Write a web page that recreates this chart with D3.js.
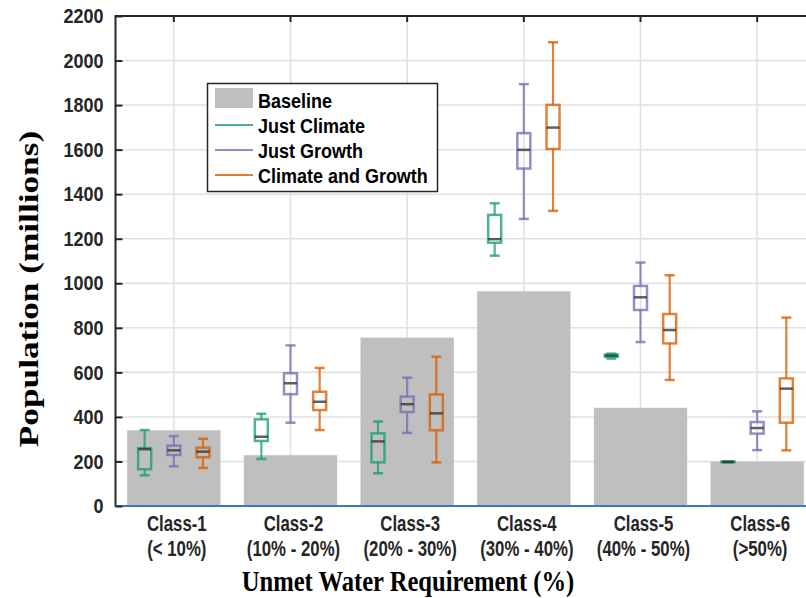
<!DOCTYPE html>
<html><head><meta charset="utf-8">
<script src="https://cdn.jsdelivr.net/npm/d3@7"></script>
<style>body{margin:0;background:#fff}svg{display:block}</style>
</head><body><svg id="c" width="806" height="598"></svg>
<script>
const classes = ["Class-1","Class-2","Class-3","Class-4","Class-5","Class-6"];
const ranges = ["(< 10%)","(10% - 20%)","(20% - 30%)","(30% - 40%)","(40% - 50%)","(>50%)"];
const baseline = [340, 228, 756, 964, 441, 199];
// [low whisker, q1, median, q3, high whisker]
const justClimate = [[138,165,255,260,341],[211,292,311,389,414],[147,196,290,326,379],[1124,1182,1198,1307,1359],[662,670,675,680,684],[196,197,198,199,200]];
const justGrowth = [[178,229,250,271,314],[374,502,551,596,721],[328,422,457,491,576],[1289,1515,1599,1674,1894],[736,880,937,988,1093],[251,325,350,377,425]];
const climateGrowth = [[171,219,244,262,302],[341,431,468,513,620],[196,340,416,501,670],[1325,1603,1699,1801,2082],[566,730,790,862,1036],[250,374,527,573,846]];
const yTicks = [0,200,400,600,800,1000,1200,1400,1600,1800,2000,2200];
const seriesNames = ["Just Climate","Just Growth","Climate and Growth"];
const seriesColors = ["#1b9e77","#7570b3","#d95f02"];
const seriesData = [justClimate, justGrowth, climateGrowth];
const offsets = [-0.25, 0, 0.25];

const svg = d3.select("#c");
const pL = 115.5, pT = 16, pB = 506;
const x = d3.scaleBand().domain(classes).range([pL, pL + 700]).padding(0);
const bw = x.bandwidth();
const cx = c => x(c) + bw/2;
const y = d3.scaleLinear().domain([0, 2200]).range([pB, pT]);

// grid
const g = svg.append("g");
g.selectAll(".hg").data(yTicks.slice(1, -1)).join("line")
  .attr("x1", pL).attr("x2", pL + 700).attr("y1", d => y(d)).attr("y2", d => y(d))
  .attr("stroke", "#e0e0e0").attr("stroke-width", 1.5);
g.selectAll(".vg").data(classes).join("line")
  .attr("x1", cx).attr("x2", cx).attr("y1", pT).attr("y2", pB)
  .attr("stroke", "#e0e0e0").attr("stroke-width", 1.5);

// baseline bars
svg.append("g").selectAll("rect").data(baseline).join("rect")
  .attr("x", (d, i) => cx(classes[i]) - bw*0.4)
  .attr("width", bw*0.8)
  .attr("y", d => y(d)).attr("height", d => y(0) - y(d))
  .attr("fill", "#bfbfbf");

// boxes
const boxW = 13, capW = 10;
seriesData.forEach((sd, s) => {
  const col = seriesColors[s];
  const gg = svg.append("g").attr("stroke-opacity", 0.78);
  sd.forEach((v, i) => {
    const xc = cx(classes[i]) + offsets[s]*bw;
    const [lo, q1, md, q3, hi] = v;
    gg.append("line").attr("x1", xc).attr("x2", xc).attr("y1", y(hi)).attr("y2", y(q3)).attr("stroke", col).attr("stroke-width", 2.2);
    gg.append("line").attr("x1", xc).attr("x2", xc).attr("y1", y(q1)).attr("y2", y(lo)).attr("stroke", col).attr("stroke-width", 2.2);
    gg.append("line").attr("x1", xc - capW/2).attr("x2", xc + capW/2).attr("y1", y(hi)).attr("y2", y(hi)).attr("stroke", col).attr("stroke-width", 2.5);
    gg.append("line").attr("x1", xc - capW/2).attr("x2", xc + capW/2).attr("y1", y(lo)).attr("y2", y(lo)).attr("stroke", col).attr("stroke-width", 2.5);
    gg.append("rect").attr("x", xc - boxW/2).attr("width", boxW).attr("y", y(q3)).attr("height", Math.max(0.5, y(q1) - y(q3)))
      .attr("fill", "none").attr("stroke", col).attr("stroke-width", 2.5);
    gg.append("line").attr("x1", xc - boxW/2).attr("x2", xc + boxW/2).attr("y1", y(md)).attr("y2", y(md)).attr("stroke", "#333").attr("stroke-width", 2.5);
  });
});

// axes frame
svg.append("line").attr("x1", pL).attr("x2", 806).attr("y1", pT).attr("y2", pT).attr("stroke", "#262626").attr("stroke-width", 2);
svg.append("line").attr("x1", pL).attr("x2", pL).attr("y1", pT - 1).attr("y2", pB).attr("stroke", "#262626").attr("stroke-width", 2);
svg.append("line").attr("x1", pL - 1).attr("x2", 806).attr("y1", pB).attr("y2", pB).attr("stroke", "#4472c4").attr("stroke-width", 2);

// y axis ticks
const yAxis = d3.axisLeft(y).tickValues(yTicks).tickFormat(d3.format("d")).tickSizeInner(-7).tickSizeOuter(0).tickPadding(12);
const ya = svg.append("g").attr("transform", `translate(${pL},0)`).call(yAxis);
ya.select(".domain").remove();
ya.selectAll(".tick line").attr("stroke", "#262626").attr("stroke-width", 2);
ya.selectAll(".tick text").attr("font-family", "Liberation Sans, Arial, sans-serif").attr("font-weight", "bold")
  .attr("font-size", 18).attr("fill", "#262626").attr("transform", "scale(1,1.15)");

// top ticks
svg.append("g").selectAll("line").data(classes).join("line")
  .attr("x1", cx).attr("x2", cx).attr("y1", pT).attr("y2", pT + 6).attr("stroke", "#262626").attr("stroke-width", 2);

// category labels
const lab = svg.append("g").attr("font-family", "Liberation Sans, Arial, sans-serif").attr("font-weight", "bold")
  .attr("font-size", 16.8).attr("fill", "#262626").attr("text-anchor", "middle");
classes.forEach((c, i) => {
  lab.append("text").attr("transform", `translate(${cx(c) + 3},${531}) scale(1,1.3)`).text(c);
  lab.append("text").attr("transform", `translate(${cx(c) + 3},${556}) scale(1,1.3)`).text(ranges[i]);
});

// axis titles
svg.append("text").attr("transform", `translate(408,591) scale(1,1.2)`).attr("text-anchor", "middle")
  .attr("font-family", "Liberation Serif, Times New Roman, serif").attr("font-weight", "bold").attr("font-size", 24.6)
  .attr("fill", "#000").text("Unmet Water Requirement (%)");
svg.append("text").attr("transform", `translate(38,289) rotate(-90) scale(1.26,1)`).attr("text-anchor", "middle")
  .attr("font-family", "Liberation Serif, Times New Roman, serif").attr("font-weight", "bold").attr("font-size", 28)
  .attr("fill", "#000").text("Population (millions)");

// legend
const lg = svg.append("g");
lg.append("rect").attr("x", 207.5).attr("y", 83.5).attr("width", 230).attr("height", 108)
  .attr("fill", "#fff").attr("stroke", "#262626").attr("stroke-width", 1.5);
lg.append("rect").attr("x", 215).attr("y", 88).attr("width", 38).attr("height", 20).attr("fill", "#bfbfbf");
const legY = [101, 126, 151, 176];
const legT = svg.append("g").attr("font-family", "Liberation Sans, Arial, sans-serif").attr("font-weight", "bold")
  .attr("font-size", 18).attr("fill", "#000");
legT.append("text").attr("transform", `translate(258,${legY[0] + 7}) scale(1,1.15)`).text("Baseline");
seriesNames.forEach((n, s) => {
  lg.append("line").attr("x1", 215).attr("x2", 253).attr("y1", legY[s+1] - 1).attr("y2", legY[s+1] - 1)
    .attr("stroke", seriesColors[s]).attr("stroke-opacity", 0.8).attr("stroke-width", 2);
  legT.append("text").attr("transform", `translate(258,${legY[s+1] + 7}) scale(1,1.15)`).text(n);
});
</script></body></html>
